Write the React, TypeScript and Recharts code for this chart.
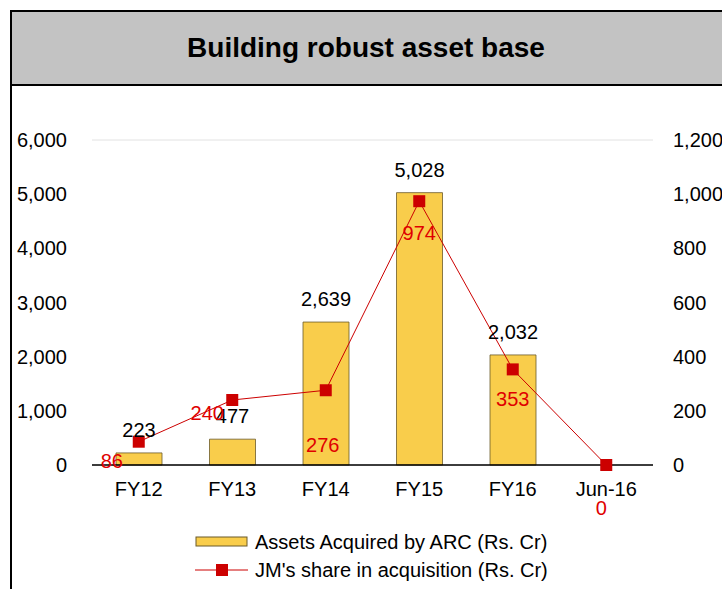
import * as React from 'react';
import {
  Bar,
  CartesianGrid,
  ComposedChart,
  LabelList,
  Legend,
  Line,
  XAxis,
  YAxis,
} from 'recharts';

const categories = ['FY12', 'FY13', 'FY14', 'FY15', 'FY16', 'Jun-16'];
const assetsAcquired = [223, 477, 2639, 5028, 2032, 0];
const jmShare = [86, 240, 276, 974, 353, 0];
const leftTicks = [0, 1000, 2000, 3000, 4000, 5000, 6000];
const rightTicks = [0, 200, 400, 600, 800, 1000, 1200];

// where each red label sits relative to its marker (dx, dy of text centre)
const shareLabelOffsets: [number, number][] = [
  [-27, 19],
  [-25, 13],
  [-3, 55],
  [0, 32],
  [0, 30],
  [-5, 43],
];

const FONT = 'Arial, "Liberation Sans", sans-serif';
const BAR_FILL = '#F9CD4B';
const RED = '#CC0000';

const data = categories.map((c, i) => ({
  name: c,
  assets: assetsAcquired[i],
  share: jmShare[i],
}));

const fmt = (v: number) => v.toLocaleString('en-US');

function SquareDot(props: any) {
  const { cx, cy } = props;
  if (cx == null || cy == null) return null;
  return <rect x={cx - 6} y={cy - 6} width={12} height={12} fill={RED} />;
}

function ShareLabel(props: any) {
  const { x, y, value, index } = props;
  const [dx, dy] = shareLabelOffsets[index] ?? [0, 20];
  return (
    <text
      x={x + dx}
      y={y + dy}
      textAnchor="middle"
      dominantBaseline="central"
      fill="#E00000"
      fontSize={20}
      fontFamily={FONT}
    >
      {fmt(Number(value))}
    </text>
  );
}

function AssetLabel(props: any) {
  const { x, y, width, value } = props;
  return (
    <text
      x={x + width / 2}
      y={y - 23}
      textAnchor="middle"
      dominantBaseline="central"
      fill="#000"
      fontSize={20}
      fontFamily={FONT}
    >
      {fmt(Number(value))}
    </text>
  );
}

function LegendBox() {
  return (
    <div style={{ paddingLeft: 195, fontFamily: FONT, fontSize: 20, color: '#000' }}>
      <div style={{ display: 'flex', alignItems: 'center', height: 28 }}>
        <svg width={54} height={14} style={{ marginRight: 6 }}>
          <rect x={1} y={2} width={51} height={9} fill={BAR_FILL} stroke="#6b5a2a" strokeWidth={1} />
        </svg>
        <span>Assets Acquired by ARC (Rs. Cr)</span>
      </div>
      <div style={{ display: 'flex', alignItems: 'center', height: 28 }}>
        <svg width={54} height={14} style={{ marginRight: 6 }}>
          <line x1={0} y1={7} x2={53} y2={7} stroke={RED} strokeWidth={1} />
          <rect x={21} y={1} width={12} height={12} fill={RED} />
        </svg>
        <span>JM's share in acquisition (Rs. Cr)</span>
      </div>
    </div>
  );
}

export default function App() {
  const tick = { fill: '#000', fontSize: 20, fontFamily: FONT };
  return (
    <div
      style={{
        position: 'fixed',
        left: 0,
        top: 0,
        width: 722,
        height: 589,
        background: '#fff',
        overflow: 'hidden',
      }}
    >
      <div
        style={{
          position: 'absolute',
          left: 10,
          top: 10,
          width: 740,
          height: 620,
          border: '2px solid #000',
          boxSizing: 'border-box',
        }}
      />
      <div
        style={{
          position: 'absolute',
          left: 10,
          top: 10,
          width: 740,
          height: 76,
          background: '#C3C3C3',
          border: '2px solid #000',
          boxSizing: 'border-box',
        }}
      />
      <div
        style={{
          position: 'absolute',
          left: 10,
          top: 10,
          width: 712,
          height: 76,
          lineHeight: '76px',
          textAlign: 'center',
          fontFamily: FONT,
          fontWeight: 'bold',
          fontSize: 28,
          color: '#000',
        }}
      >
        Building robust asset base
      </div>
      <div style={{ position: 'absolute', left: 0, top: 0 }}>
        <ComposedChart
          width={722}
          height={589}
          data={data}
          margin={{ top: 140, right: 0, left: 0, bottom: 1 }}
          barCategoryGap="25%"
        >
          <CartesianGrid vertical={false} stroke="#E2E2E2" strokeWidth={1} />
          <XAxis
            dataKey="name"
            tick={tick}
            tickLine={false}
            axisLine={{ stroke: '#000', strokeWidth: 1.3 }}
            tickMargin={11}
            height={63}
          />
          <YAxis
            yAxisId="left"
            domain={[0, 6000]}
            ticks={leftTicks}
            tick={tick}
            tickFormatter={fmt}
            tickLine={false}
            axisLine={false}
            width={92}
            tickMargin={19}
            interval={0}
          />
          <YAxis
            yAxisId="right"
            orientation="right"
            domain={[0, 1200]}
            ticks={rightTicks}
            tick={{ ...tick, textAnchor: 'start' }}
            tickFormatter={fmt}
            tickLine={false}
            axisLine={false}
            width={69}
            tickMargin={14}
            interval={0}
          />
          <Legend verticalAlign="bottom" height={60} content={() => <LegendBox />} />
          <Bar
            yAxisId="left"
            dataKey="assets"
            name="Assets Acquired by ARC (Rs. Cr)"
            fill={BAR_FILL}
            stroke="#6b5a2a"
            strokeWidth={0.8}
            barSize={46}
            isAnimationActive={false}
          >
            <LabelList dataKey="assets" content={AssetLabel} />
          </Bar>
          <Line
            yAxisId="right"
            dataKey="share"
            name="JM's share in acquisition (Rs. Cr)"
            stroke={RED}
            strokeWidth={1}
            dot={<SquareDot />}
            activeDot={false}
            isAnimationActive={false}
          >
            <LabelList dataKey="share" content={ShareLabel} />
          </Line>
        </ComposedChart>
      </div>
    </div>
  );
}
